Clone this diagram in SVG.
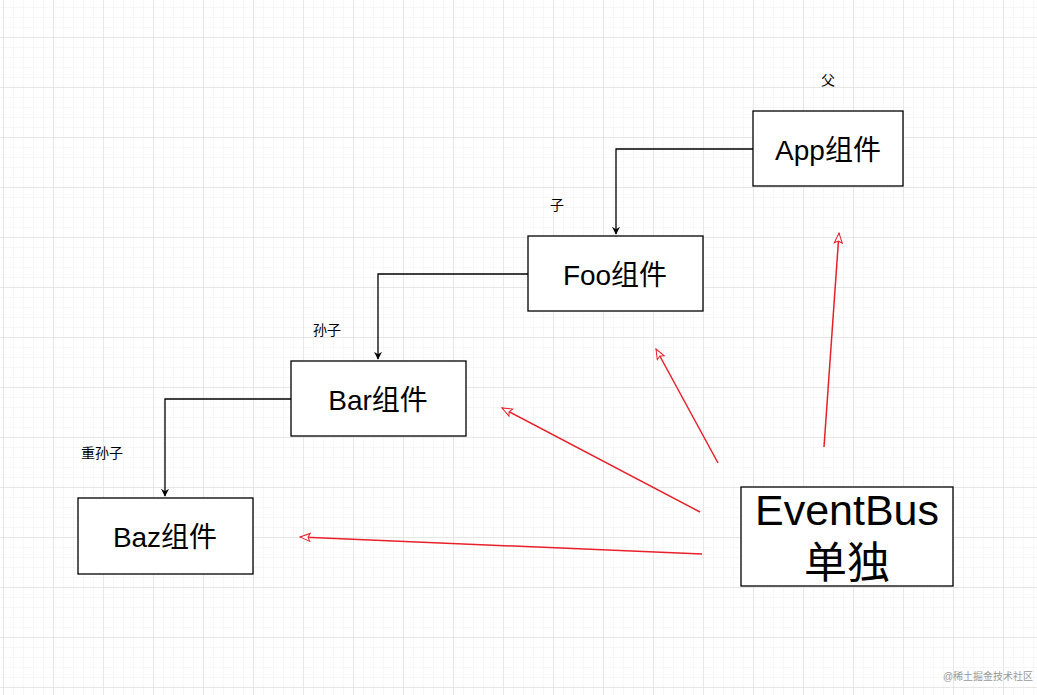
<svg xmlns="http://www.w3.org/2000/svg" width="1037" height="695" viewBox="0 0 1037 695">
<defs>
<pattern id="minor" x="3" y="-13" width="10" height="10" patternUnits="userSpaceOnUse"><path d="M0 0H10M0 0V10" fill="none" stroke="#f0f0f0" stroke-width="1"/></pattern>
<pattern id="major" x="3" y="-13" width="50" height="50" patternUnits="userSpaceOnUse"><path d="M0 0H50M0 0V50" fill="none" stroke="#d8d8d8" stroke-width="1"/></pattern>
<marker id="blk" viewBox="0 0 10 10" refX="9" refY="5" markerWidth="8" markerHeight="8" orient="auto" markerUnits="userSpaceOnUse"><path d="M0 0L10 5L0 10L3 5Z" fill="#000"/></marker>
<marker id="red" viewBox="0 0 12 10" refX="11" refY="5" markerWidth="12" markerHeight="10" orient="auto" markerUnits="userSpaceOnUse"><path d="M1 1L11 5L1 9L3 5Z" fill="#fff" stroke="#e8202a" stroke-width="1"/></marker>
<style>
.box{fill:#fff;stroke:#000;stroke-width:1.3}
.t{font-family:"Liberation Sans","Noto Sans CJK SC",sans-serif;fill:#000;text-anchor:middle}
.conn{fill:none;stroke:#000;stroke-width:1.3}
.r{fill:none;stroke:#e8202a;stroke-width:1.5}
</style>
</defs>
<rect width="1037" height="695" fill="#fff"/>
<rect width="1037" height="695" fill="url(#minor)"/>
<rect width="1037" height="695" fill="url(#major)"/>
<g id="connectors">
<path class="conn" d="M753 149H616V234" marker-end="url(#blk)"/>
<path class="conn" d="M528 274H378V359" marker-end="url(#blk)"/>
<path class="conn" d="M291 399H165V496" marker-end="url(#blk)"/>
<path class="r" d="M824 447L839 233" marker-end="url(#red)"/>
<path class="r" d="M718 463L656 349" marker-end="url(#red)"/>
<path class="r" d="M700 512L502 408" marker-end="url(#red)"/>
<path class="r" d="M702 554L300 537" marker-end="url(#red)"/>
</g>
<g id="app"><rect class="box" x="753" y="111" width="150" height="75"/><text class="t" x="828" y="160" font-size="28">App组件</text></g>
<g id="foo"><rect class="box" x="528" y="236" width="175" height="75"/><text class="t" x="615" y="285" font-size="28">Foo组件</text></g>
<g id="bar"><rect class="box" x="291" y="361" width="175" height="75"/><text class="t" x="378" y="410" font-size="28">Bar组件</text></g>
<g id="baz"><rect class="box" x="78" y="498" width="175" height="76"/><text class="t" x="165" y="547" font-size="28">Baz组件</text></g>
<g id="eventbus"><rect class="box" x="741" y="487" width="212" height="99"/><text class="t" x="847" y="525" font-size="43">EventBus</text><text class="t" x="847" y="578" font-size="43">单独</text></g>
<g id="labels">
<text class="t" x="828" y="85" font-size="14">父</text>
<text class="t" x="557" y="210" font-size="14">子</text>
<text class="t" x="327" y="335" font-size="14">孙子</text>
<text class="t" x="102" y="458" font-size="14">重孙子</text>
<text class="t" x="988" y="680" font-size="10" style="fill:#999">@稀土掘金技术社区</text>
</g>
</svg>
